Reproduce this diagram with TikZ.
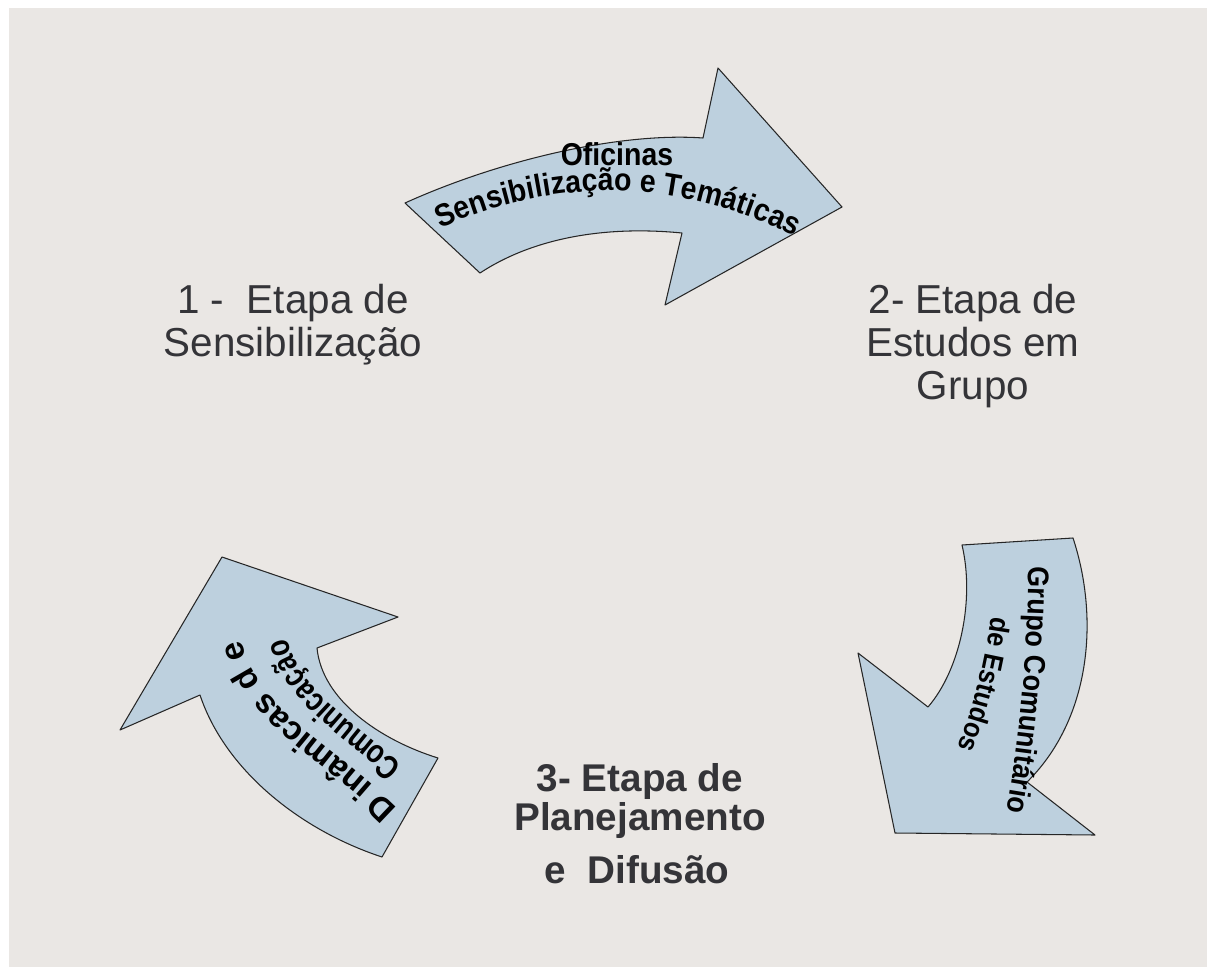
\documentclass[tikz,border=0pt]{standalone}
\usepackage{fontspec}
\setmainfont{Liberation Sans}
\newfontfamily\arrowfam[FakeStretch=0.9]{Liberation Sans}
\newfontfamily\tightfam[FakeStretch=0.8]{Liberation Sans}
\usetikzlibrary{decorations.text}
\definecolor{panel}{RGB}{234,231,228}
\definecolor{arrowfill}{RGB}{189,208,222}
\definecolor{labelgray}{RGB}{52,52,56}
\newcommand\stepfont{\fontsize{23}{24.5}\selectfont}
\newcommand\arrowfont{\arrowfam\fontsize{18}{18}\selectfont\bfseries}
\newcommand\sidefont{\arrowfam\fontsize{17}{17}\selectfont\bfseries}
\newcommand\smallsidefont{\arrowfam\fontsize{16}{16}\selectfont\bfseries}
\newcommand\leftfont{\fontsize{19}{19}\selectfont\bfseries}
\newcommand\tightfont{\tightfam\fontsize{19}{19}\selectfont\bfseries}

\begin{document}
\begin{tikzpicture}[x=0.02cm,y=-0.02cm,
    bigarrow/.style={fill=arrowfill,draw=black!85,line width=0.6pt,line join=round},
    stage/.style={align=center,inner sep=0pt,text=labelgray,font=\stepfont},
    curvedtext/.style 2 args={decorate,decoration={text along path,text align=center,text={|#1|#2}}}]
  % page and grey panel
  \fill[white] (0,0) rectangle (1207,967);
  \fill[panel] (9,8) rectangle (1207,967);
  \useasboundingbox (0,0) rectangle (1207,967);

  % top arrow
  \draw[bigarrow] (405,203) .. controls (500,160) and (620,132) .. (703,138) -- (718,68) -- (842,207)
    -- (665,305) -- (682,233) .. controls (600,225) and (530,240) .. (480,273) -- cycle;
  \node[font=\arrowfam\fontsize{18}{18}\selectfont\bfseries, anchor=base] (ofic) at (617,165) {Oficinas};
  \path[curvedtext={\arrowfont}{Sensibilização e Temáticas}] (430,233) .. controls (555,174) and (680,177) .. (805,241);

  % right arrow
  \draw[bigarrow] (962,545) -- (1073,538) .. controls (1100,620) and (1090,720) .. (1027,782) -- (1095,835)
    -- (895,833) -- (858,653) -- (928,707) .. controls (960,670) and (975,600) .. (962,545) -- cycle;
  \path[curvedtext={\sidefont}{Grupo Comunitário}] (1029,548) .. controls (1029,630) and (1022,740) .. (1003,830);
  \path[curvedtext={\smallsidefont}{de Estudos}] (994,598) .. controls (987,650) and (977,705) .. (951,765);

  % left arrow
  \draw[bigarrow] (438,758) -- (382,857) .. controls (300,830) and (225,770) .. (200,695) -- (120,730)
    -- (222,557) -- (398,617) -- (317,648) .. controls (322,700) and (380,740) .. (438,758) -- cycle;
  \path[curvedtext={\leftfont}{D inâmicas d e}] (410,821) .. controls (330,735) and (250,715) .. (238,622);
  \path[curvedtext={\tightfont}{Comunicação}] (414,776) .. controls (350,715) and (290,690) .. (285,622);

  % stages
  \node[stage, anchor=north] (step1) at (293,284) {1 - \ Etapa de\\Sensibilização};
  \node[stage, anchor=north] (step2) at (973,284) {2- Etapa de\\Estudos em\\Grupo};
  \node[stage, font=\fontsize{22}{22.5}\selectfont\bfseries, anchor=north] (step3) at (640,763) {3- Etapa de\\Planejamento};
  \node[stage, font=\fontsize{22}{22.5}\selectfont\bfseries, anchor=base] (step3b) at (637,883) {e \ Difusão};
\end{tikzpicture}
\end{document}
